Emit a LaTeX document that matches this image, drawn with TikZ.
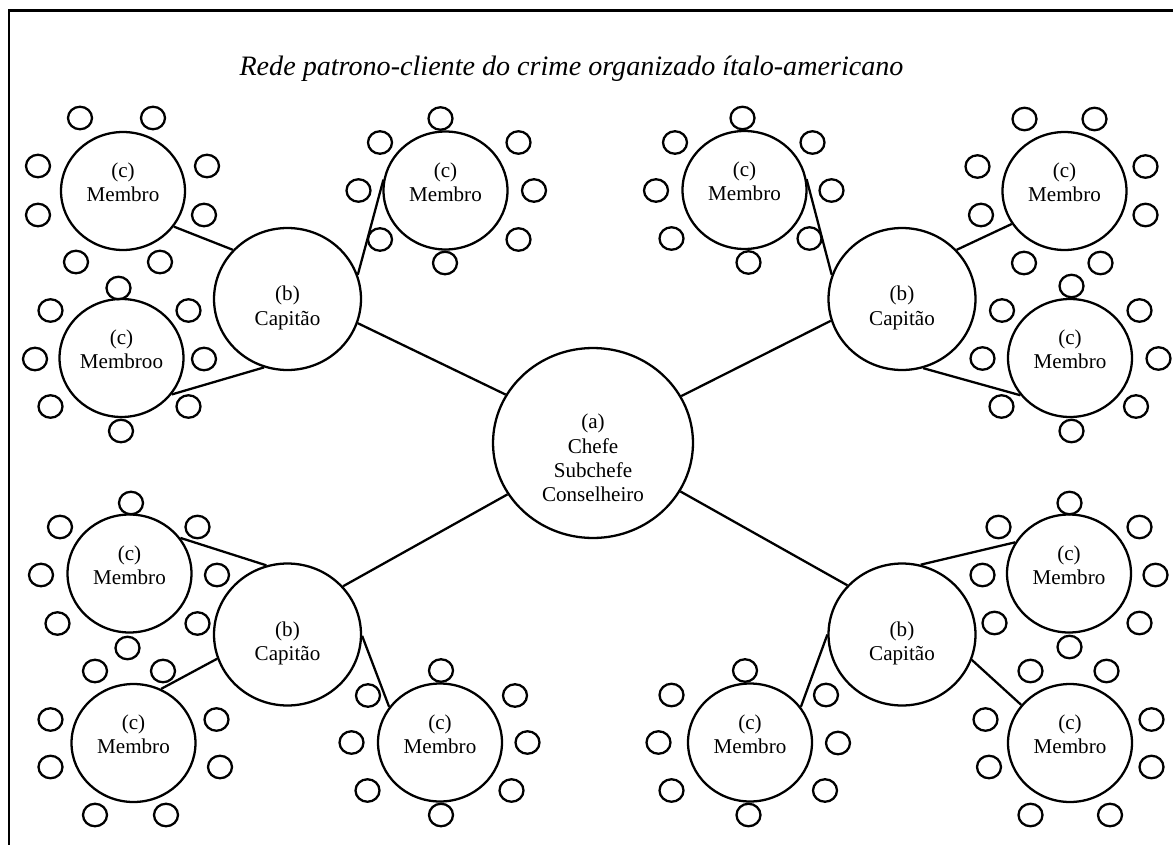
\documentclass[tikz,border=0pt]{standalone}
\usepackage{fontspec}
\setmainfont{Liberation Serif}
\usepackage{tikz}
\usetikzlibrary{shapes.geometric}
\tikzstyle{boss}=[ellipse,draw,line width=1.3pt,minimum width=4cm,minimum height=3.8cm,inner sep=0pt,align=center,text height=66.7pt]
\tikzstyle{captain}=[ellipse,draw,line width=1.3pt,minimum width=2.94cm,minimum height=2.84cm,inner sep=0pt,align=center,text height=32.3pt]
\tikzstyle{member}=[ellipse,draw,line width=1.3pt,minimum width=2.48cm,minimum height=2.36cm,inner sep=0pt,align=center,text depth=9.7pt]
\tikzstyle{smallvertex}=[ellipse,draw,line width=1.3pt,minimum width=0.48cm,minimum height=0.45cm,inner sep=0pt]
\tikzstyle{undirectededge} = [draw,line width=1.3pt]

\begin{document}
\begin{tikzpicture}[x=0.02cm,y=-0.02cm,font=\fontsize{12}{13.8}\selectfont]
    \useasboundingbox (0,0) rectangle (1173,845);
    \draw[line width=1.3pt] (9,845) -- (9,10.5) -- (1173,10.5);

    \node[font=\fontsize{16}{19}\selectfont\itshape,anchor=base] (title) at (571.5,75) {Rede patrono-cliente do crime organizado ítalo-americano};

    \node[boss] (boss) at (593,443) {(a)\\Chefe\\Subchefe\\Conselheiro};

    \foreach \pos/\name in {{(287.5,299)/cTL}, {(902,299)/cTR}, {(287.5,634.5)/cBL}, {(902,634.5)/cBR}}
        \node[captain] (\name) at \pos {(b)\\Capitão};

    \foreach \pos/\name/\label in {{(123,191)/mA/Membro}, {(121.5,358)/mB/Membroo}, {(445.5,190.5)/mC/Membro}, {(744.5,190)/mD/Membro}, {(1064.5,191)/mE/Membro}, {(1070,358)/mF/Membro}, {(129.5,573.5)/mG/Membro}, {(133.5,743)/mH/Membro}, {(440,742.5)/mI/Membro}, {(750,742.5)/mJ/Membro}, {(1069,573.5)/mK/Membro}, {(1070,743)/mL/Membro}}
        \node[member] (\name) at \pos {(c)\\\label};

    % small circles round each member
    \foreach \pos [count=\i] in {(80,118),(153,118),(38,166),(38,215),(207,166),(204,215),(76,262),(160,262)}
        \node[smallvertex] (sA\i) at \pos {};
    \foreach \pos [count=\i] in {(118.5,288),(50.5,310.5),(188.5,310.5),(35,359),(204,359),(50.5,406.5),(188.5,406.5),(121,431)}
        \node[smallvertex] (sB\i) at \pos {};
    \foreach \pos [count=\i] in {(440.5,118.5),(380,142.5),(518.5,142.5),(358.5,190.5),(534,190.5),(380,239.5),(518.5,239.5),(445,263)}
        \node[smallvertex] (sC\i) at \pos {};
    \foreach \pos [count=\i] in {(742.5,118),(675,142.5),(812.5,142.5),(656,190.5),(831.5,190.5),(671.5,238.5),(809.5,238.5),(748.5,262.5)}
        \node[smallvertex] (sD\i) at \pos {};
    \foreach \pos [count=\i] in {(1024.5,119),(1094.5,119),(977.5,166.5),(981,215),(1145.5,166.5),(1145.5,215),(1024,263),(1100.5,263)}
        \node[smallvertex] (sE\i) at \pos {};
    \foreach \pos [count=\i] in {(1071.5,286),(1002,310.5),(1139.5,310.5),(982.5,358.5),(1158.5,358.5),(1001.5,406.5),(1136,406.5),(1071.5,431)}
        \node[smallvertex] (sF\i) at \pos {};
    \foreach \pos [count=\i] in {(131,503),(60,527),(197.5,527),(41,575),(217,575),(57.5,623.5),(197.5,623.5),(127.5,648)}
        \node[smallvertex] (sG\i) at \pos {};
    \foreach \pos [count=\i] in {(95,671),(163,671),(50.5,719.5),(50.5,767),(216.5,719.5),(220,767),(95,815),(166,815)}
        \node[smallvertex] (sH\i) at \pos {};
    \foreach \pos [count=\i] in {(441,670.5),(368,695.5),(515,695.5),(351.5,742.5),(527.5,742.5),(367.5,790.5),(511.5,790.5),(441,815)}
        \node[smallvertex] (sI\i) at \pos {};
    \foreach \pos [count=\i] in {(745,670.5),(671.5,695),(826,695),(658.5,742.5),(838,743),(671.5,790.5),(825,790.5),(748.5,815)}
        \node[smallvertex] (sJ\i) at \pos {};
    \foreach \pos [count=\i] in {(1069.5,503),(998.5,527),(1139.5,527),(982.5,575),(1155.5,575),(994.5,623),(1139.5,623),(1069.5,647)}
        \node[smallvertex] (sK\i) at \pos {};
    \foreach \pos [count=\i] in {(1030.5,671),(1106.5,671),(985.5,719.5),(989,767),(1151.5,719.5),(1151.5,767),(1030.5,815),(1110,815)}
        \node[smallvertex] (sL\i) at \pos {};

    \foreach \source/ \dest in {mA.-35/cTL.138, cTL.19/mC.170, mB.-36/cTL.-109, cTL.-19/boss.151, boss.28/cTR.197, cTR.161/mD.10, cTR.42/mE.212, cTR.-73/mF.217, boss.211/cBL.41, mG.35/cBL.107, mH.63/cBL.199, cBL.-1/mI.145, boss.-29/cBR.138, cBR.75/mK.150, cBR.180/mJ.35, cBR.-20/mL.142}
        \path[undirectededge] (\source) -- (\dest);
\end{tikzpicture}
\end{document}
